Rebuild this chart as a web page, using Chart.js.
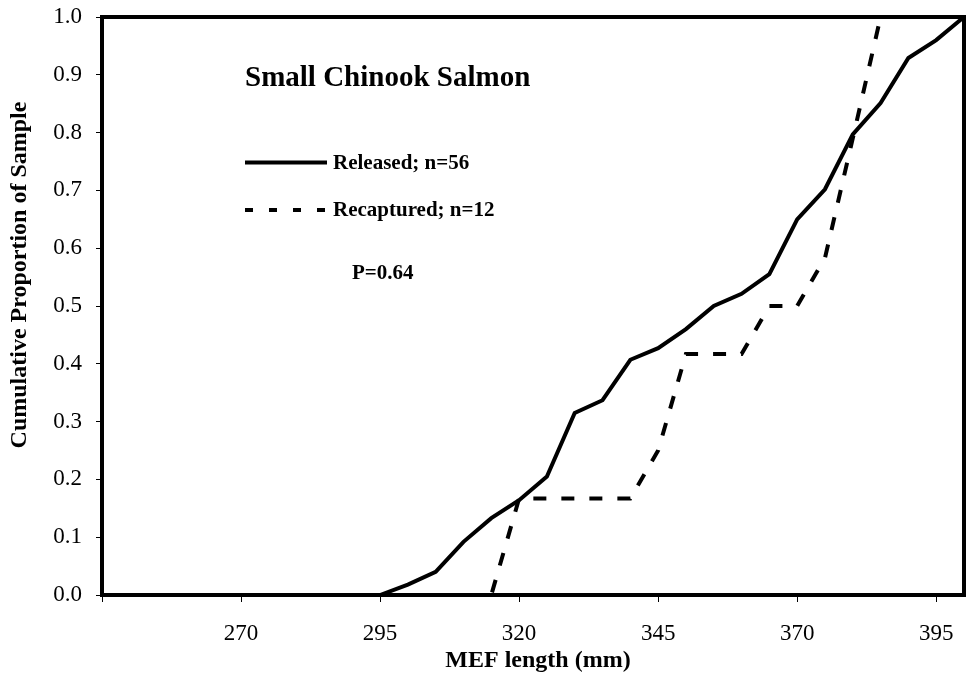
<!DOCTYPE html>
<html>
<head>
<meta charset="utf-8">
<script src="https://cdn.jsdelivr.net/npm/chart.js@4/dist/chart.umd.min.js"></script>
<style>
  html, body { margin: 0; padding: 0; background: #fff; }
  #c { display: block; }
</style>
</head>
<body>
<canvas id="c" width="966" height="682"></canvas>
<script>
// ---- data ----
const lengths = [245,250,255,260,265,270,275,280,285,290,295,300,305,310,315,320,325,330,335,340,345,350,355,360,365,370,375,380,385,390,395,400];
const released = [0,0,0,0,0,0,0,0,0,0,0,0.018,0.040,0.092,0.133,0.164,0.205,0.315,0.337,0.407,0.427,0.460,0.500,0.521,0.555,0.650,0.702,0.797,0.851,0.929,0.960,1.000];
const recaptured = [0,0,0,0,0,0,0,0,0,0,0,0,0,0,0,0.167,0.167,0.167,0.167,0.167,0.250,0.417,0.417,0.417,0.500,0.500,0.583,0.790,1.000,1.000,1.000,1.000];
const xTickValues = [245,270,295,320,345,370,395];
const yTickValues = [0,0.1,0.2,0.3,0.4,0.5,0.6,0.7,0.8,0.9,1.0];
const chartTitle = 'Small Chinook Salmon';
const seriesNames = ['Released; n=56', 'Recaptured; n=12'];
const pText = 'P=0.64';
const xTitle = 'MEF length (mm)';
const yTitle = 'Cumulative Proportion of Sample';

const serif = '"Liberation Serif", "Times New Roman", serif';

const annotations = {
  id: 'annotations',
  afterDatasetsDraw(chart) {
    const ctx = chart.ctx;
    const a = chart.chartArea;
    ctx.save();
    // frame
    ctx.strokeStyle = '#000';
    ctx.lineWidth = 4;
    ctx.strokeRect(a.left, a.top, a.right - a.left, a.bottom - a.top);
    ctx.fillStyle = '#000';
    ctx.textAlign = 'left';
    ctx.textBaseline = 'alphabetic';
    ctx.font = 'bold 29px ' + serif;
    ctx.fillText(chartTitle, 245, 86);
    // legend
    ctx.lineWidth = 4;
    ctx.beginPath();
    ctx.moveTo(245, 162.5); ctx.lineTo(327, 162.5);
    ctx.stroke();
    ctx.setLineDash([8, 16]);
    ctx.beginPath();
    ctx.moveTo(245, 210); ctx.lineTo(327, 210);
    ctx.stroke();
    ctx.setLineDash([]);
    ctx.font = 'bold 21px ' + serif;
    ctx.fillText(seriesNames[0], 333, 169);
    ctx.fillText(seriesNames[1], 333, 216);
    ctx.fillText(pText, 352, 279);
    // axis titles
    ctx.font = 'bold 24px ' + serif;
    ctx.textAlign = 'center';
    ctx.textBaseline = 'middle';
    ctx.fillText(xTitle, 538, 661);
    ctx.translate(20, 275);
    ctx.rotate(-Math.PI / 2);
    ctx.fillText(yTitle, 0, 0);
    ctx.restore();
  }
};

new Chart(document.getElementById('c'), {
  type: 'line',
  data: {
    datasets: [
      {
        label: seriesNames[0],
        data: lengths.map((x, i) => ({ x: x, y: released[i] })),
        borderColor: '#000',
        borderWidth: 4,
        pointRadius: 0,
        tension: 0,
        fill: false
      },
      {
        label: seriesNames[1],
        data: lengths.map((x, i) => ({ x: x, y: recaptured[i] })),
        borderColor: '#000',
        borderWidth: 4,
        borderDash: [13, 15],
        pointRadius: 0,
        tension: 0,
        fill: false
      }
    ]
  },
  options: {
    responsive: false,
    animation: false,
    devicePixelRatio: 1,
    layout: { padding: { top: 17, right: 2, left: 0, bottom: 0 } },
    plugins: { legend: { display: false }, tooltip: { enabled: false }, title: { display: false } },
    scales: {
      x: {
        type: 'linear',
        min: 245,
        max: 400,
        afterFit: s => { s.height = 87; s.paddingLeft = 0; s.paddingRight = 0; },
        afterBuildTicks: s => { s.ticks = xTickValues.map(v => ({ value: v })); },
        grid: { display: true, drawOnChartArea: false, drawTicks: true, tickLength: 7, color: '#000', lineWidth: 1 },
        border: { display: false },
        ticks: {
          color: '#000',
          font: { family: serif, size: 23 },
          padding: 18,
          maxRotation: 0,
          autoSkip: false,
          callback: v => (v === 245 ? '' : String(v))
        }
      },
      y: {
        type: 'linear',
        min: 0,
        max: 1,
        afterFit: s => { s.width = 102; s.paddingTop = 0; s.paddingBottom = 0; },
        afterBuildTicks: s => { s.ticks = yTickValues.map(v => ({ value: v })); },
        grid: { display: true, drawOnChartArea: false, drawTicks: true, tickLength: 6, color: '#000', lineWidth: 1 },
        border: { display: false },
        ticks: {
          color: '#000',
          font: { family: serif, size: 23 },
          padding: 14,
          autoSkip: false,
          callback: v => Number(v).toFixed(1)
        }
      }
    }
  },
  plugins: [annotations]
});
</script>
</body>
</html>
